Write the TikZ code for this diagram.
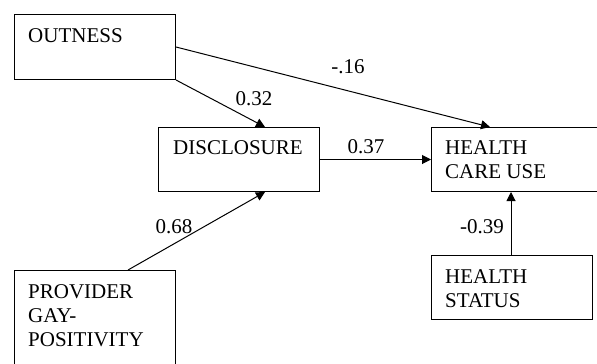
\documentclass[tikz,border=0pt]{standalone}
\usepackage{fontspec}
\setmainfont{Liberation Serif}
\usetikzlibrary{arrows.meta}
\begin{document}
\begin{tikzpicture}[x=1bp,y=-1bp,
  box/.style={draw, line width=1bp, inner sep=0pt, anchor=north west},
  lbl/.style={inner sep=0pt, anchor=base west, font=\fontsize{21bp}{24bp}\selectfont, align=left},
  coef/.style={inner sep=0pt, anchor=base, font=\fontsize{21bp}{24bp}\selectfont},
  arr/.style={line width=1bp, -{Triangle[length=9bp,width=9bp]}}]
\useasboundingbox (0,0) rectangle (597,363);
\clip (0,0) rectangle (597,363);
% boxes
\node[box, minimum width=161bp, minimum height=65bp] (out) at (14,14) {};
\node[box, minimum width=161bp, minimum height=64bp] (disc) at (158,127) {};
\node[box, minimum width=180bp, minimum height=64bp] (hcu) at (431,127) {};
\node[box, minimum width=161bp, minimum height=64bp] (hs) at (431,255) {};
\node[box, minimum width=161bp, minimum height=110bp] (prov) at (14,270) {};
% texts (base anchor = baseline of the last line)
\node[lbl] (tout) at (28,42) {OUTNESS};
\node[lbl] (tdisc) at (173,154) {DISCLOSURE};
\node[lbl] (thcu) at (445,178) {HEALTH\\CARE USE};
\node[lbl] (ths) at (445,307) {HEALTH\\STATUS};
\node[lbl] (tprov) at (28,346) {PROVIDER\\GAY-\\POSITIVITY};
% arrows
\draw[arr] (out.south east) -- ([xshift=107bp]disc.north west);
\draw[arr] (out.east) -- ([xshift=59bp]hcu.north west);
\draw[arr] (disc.east) -- (hcu.west);
\draw[arr] ([xshift=114bp]prov.north west) -- ([xshift=107bp]disc.south west);
\draw[arr] ([xshift=80bp]hs.north west) -- ([xshift=80bp]hcu.south west);
% coefficients
\node[coef] (c1) at (348,73) {-.16};
\node[coef] (c2) at (254,105) {0.32};
\node[coef] (c3) at (366,153) {0.37};
\node[coef] (c4) at (174,233) {0.68};
\node[coef] (c5) at (482,233) {-0.39};
\end{tikzpicture}
\end{document}
